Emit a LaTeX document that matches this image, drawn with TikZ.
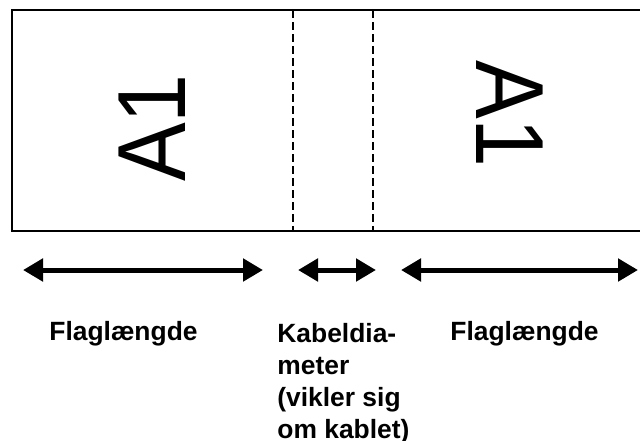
\documentclass[tikz,border=0pt]{standalone}
\usepackage{fontspec}
\setmainfont{Liberation Sans}
\usetikzlibrary{arrows.meta, positioning}

\begin{document}
\begin{tikzpicture}[x=0.5pt, y=-0.5pt,
  every node/.style={inner sep=0pt, font=\bfseries\fontsize{13.2}{16}\selectfont},
  dimarrow/.style={{Triangle[length=10pt,width=11pt]}-{Triangle[length=10pt,width=11pt]}, line width=2.5pt},
  foldline/.style={dash pattern=on 4pt off 2pt, line width=0.7pt},
  flagtext/.style={font=\fontsize{44}{44}\selectfont, xscale=1.1}]
  \useasboundingbox (0,0) rectangle (640,440);
  % flag outline, the right end runs off the page
  \draw[line width=1pt] (640,10) -- (12,10) -- (12,231) -- (640,231);
  \draw[foldline] (293,10) -- (293,231);
  \draw[foldline] (373,10) -- (373,231);
  \node[flagtext, rotate=90] (leftflag) at (152,128) {A1};
  \node[flagtext, rotate=-90] (rightflag) at (510,114) {A1};
  % dimension arrows
  \foreach \part/\a/\b in {left/23/263, mid/298/376, right/401/638}
  {
    \coordinate (\part start) at (\a,270);
    \coordinate (\part end) at (\b,270);
    \draw[dimarrow] (\part start) -- (\part end);
  }
  \node[anchor=base west] (leftlabel) at (49,340) {Flaglængde};
  \node[anchor=north west, align=left] (midlabel) at (277,323)
       {Kabeldia-\\meter\\(vikler sig\\om kablet)};
  \node[anchor=base west] (rightlabel) at (450,340) {Flaglængde};
\end{tikzpicture}
\end{document}
